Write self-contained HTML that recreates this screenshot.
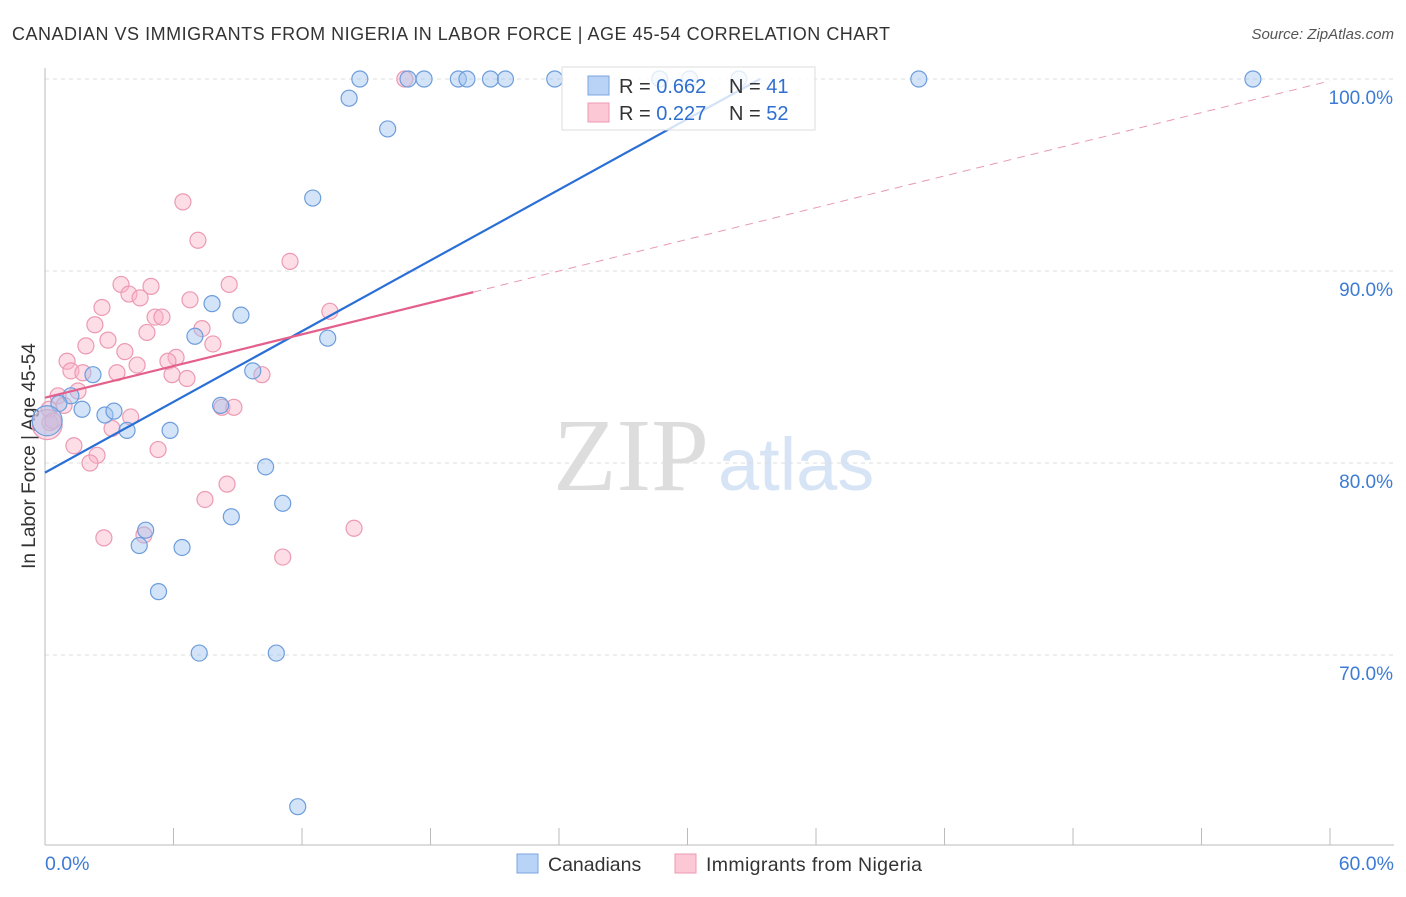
<!DOCTYPE html>
<html><head><meta charset="utf-8"><style>
body{margin:0;background:#fff;font-family:"Liberation Sans",sans-serif}
#c{position:relative;width:1406px;height:892px}
</style></head><body>
<div id="c">
<svg id="s" width="1406" height="892" xmlns="http://www.w3.org/2000/svg">
<text x="12" y="40" font-size="18" fill="#333" textLength="878">CANADIAN VS IMMIGRANTS FROM NIGERIA IN LABOR FORCE | AGE 45-54 CORRELATION CHART</text>
<text x="1394" y="39" font-size="15" fill="#555" font-style="italic" text-anchor="end">Source: ZipAtlas.com</text>
<text x="35" y="456" font-size="19" fill="#333" text-anchor="middle" transform="rotate(-90 35 456)">In Labor Force | Age 45-54</text>
<text x="553" y="490" font-size="104" fill="#ddd" font-family="Liberation Serif">ZIP</text>
<text x="718" y="490" font-size="74" fill="#d6e4f5">atlas</text>
<g id="grid"></g><g id="pts"></g><g id="lines"></g>
<g>
<rect x="562" y="67" width="253" height="63" fill="rgba(255,255,255,0.8)" stroke="#ddd"/>
<rect x="588" y="76" width="21" height="19" fill="#b8d3f5" stroke="#7aa6de"/>
<rect x="588" y="103" width="21" height="19" fill="#fcc8d6" stroke="#ee9ab2"/>
<text x="619" y="93" font-size="20" fill="#333">R = <tspan fill="#2f6fd0">0.662</tspan></text>
<text x="729" y="93" font-size="20" fill="#333">N = <tspan fill="#2f6fd0">41</tspan></text>
<text x="619" y="120" font-size="20" fill="#333">R = <tspan fill="#2f6fd0">0.227</tspan></text>
<text x="729" y="120" font-size="20" fill="#333">N = <tspan fill="#2f6fd0">52</tspan></text>
</g>
<g>
<rect x="517" y="854" width="21" height="19" fill="#b8d3f5" stroke="#7aa6de"/>
<text x="548" y="871" font-size="19.5" fill="#333">Canadians</text>
<rect x="675" y="854" width="21" height="19" fill="#fcc8d6" stroke="#ee9ab2"/>
<text x="706" y="871" font-size="19.5" fill="#333" textLength="216">Immigrants from Nigeria</text>
</g>
</svg>
</div>
<script>
const yTicks=[100,90,80,70];
const yTickLabels=["100.0%","90.0%","80.0%","70.0%"];
const xTickLabels=["0.0%","60.0%"];
const blueX=[14.7,16.95,17.7,19.3,19.7,20.8,21.5,23.8,30.1,32.4,40.8,56.4,28.7,14.2,16.0,12.5,7.8,9.15,13.2,7.0,9.7,2.24,1.21,0.65,1.73,2.8,3.22,8.2,3.83,5.84,10.3,11.1,8.7,4.7,4.4,6.4,5.3,7.2,10.8,11.8,0.1];
const blueY=[100,100,100,100,100,100,100,100,100,100,100,100,100,99.0,97.4,93.8,88.3,87.7,86.5,86.6,84.8,84.6,83.5,83.1,82.8,82.5,82.7,83.0,81.7,81.7,79.8,77.9,77.2,76.5,75.7,75.6,73.3,70.1,70.1,62.1,82.2];
const pinkX=[16.8,6.44,7.14,11.44,3.55,8.6,4.95,3.92,4.44,6.77,2.66,13.3,2.33,5.14,5.46,7.33,4.76,7.84,1.91,2.94,3.73,1.03,6.12,5.74,4.3,1.21,1.77,3.36,5.93,6.63,10.13,1.54,0.61,0.89,0.19,8.26,8.82,4.0,3.13,0.23,0.37,1.35,5.28,2.43,2.1,8.5,7.47,14.43,4.62,2.75,11.1,0.1];
const pinkY=[100,93.6,91.6,90.5,89.3,89.3,89.2,88.8,88.6,88.5,88.1,87.9,87.2,87.6,87.6,87.0,86.8,86.2,86.1,86.4,85.8,85.3,85.5,85.3,85.1,84.8,84.7,84.7,84.6,84.4,84.6,83.75,83.5,83.0,82.8,82.9,82.9,82.4,81.8,82.1,82.2,80.9,80.7,80.4,80.0,78.9,78.1,76.6,76.25,76.1,75.1,82.0];
const blueFit=[79.5,0.614];const pinkFit=[83.4,0.275];
const X=v=>45+v*21.417, Y=v=>79+(100-v)*19.2;
const NS="http://www.w3.org/2000/svg";
function mk(t,a,p){const e=document.createElementNS(NS,t);for(const k in a)e.setAttribute(k,a[k]);document.getElementById(p).appendChild(e);return e;}
yTicks.forEach((t,i)=>{
 const l=mk('line',{x1:45,x2:1394,y1:Y(t),y2:Y(t),stroke:'#ddd','stroke-dasharray':'4,4'},'grid');
 
 
 const tx=mk('text',{x:1393,y:Y(t)+25,'font-size':19,fill:'#3d7bd4','text-anchor':'end'},'grid');tx.textContent=yTickLabels[i];
 
 
});
const ax=mk('line',{x1:45,x2:45,y1:68,y2:845,stroke:'#bbb'},'grid');


const bx=mk('line',{x1:45,x2:1394,y1:845,y2:845,stroke:'#bbb'},'grid');


for(let i=0;i<=10;i++){const t=mk('line',{x1:X(i*6),x2:X(i*6),y1:828,y2:845,stroke:'#bbb'},'grid');
 
 }
[[0,'start',45],[60,'end',1394]].forEach((d,i)=>{const t=mk('text',{x:d[2],y:870,'font-size':19.5,fill:'#3d7bd4','text-anchor':d[1]},'grid');t.textContent=xTickLabels[i];
 
 });
function pts(xs,ys,fill,st,name){xs.forEach((x,i)=>{const big=(i===xs.length-1&&x<0.2);
 const c=mk('circle',{cx:X(x),cy:Y(ys[i]),r:big?15:8,fill:fill,stroke:st,'stroke-width':1.2},'pts');
 
 });}
pts(pinkX,pinkY,'rgba(250,180,200,0.45)','#ec9ab3','point-nigeria');
pts(blueX,blueY,'rgba(160,195,240,0.45)','#6d9ddc','point-canadians');
const l1=mk('line',{x1:X(0),y1:Y(blueFit[0]),x2:X(33.4),y2:Y(blueFit[0]+blueFit[1]*33.4),stroke:'#2a6fd6','stroke-width':2.2},'lines');


const l2=mk('line',{x1:X(0),y1:Y(pinkFit[0]),x2:X(20),y2:Y(pinkFit[0]+pinkFit[1]*20),stroke:'#e4608c','stroke-width':2.2},'lines');


const l3=mk('line',{x1:X(20),y1:Y(pinkFit[0]+pinkFit[1]*20),x2:X(60),y2:Y(pinkFit[0]+pinkFit[1]*60),stroke:'#e89ab3','stroke-width':1,'stroke-dasharray':'8,6'},'lines');


</script>
</body></html>
